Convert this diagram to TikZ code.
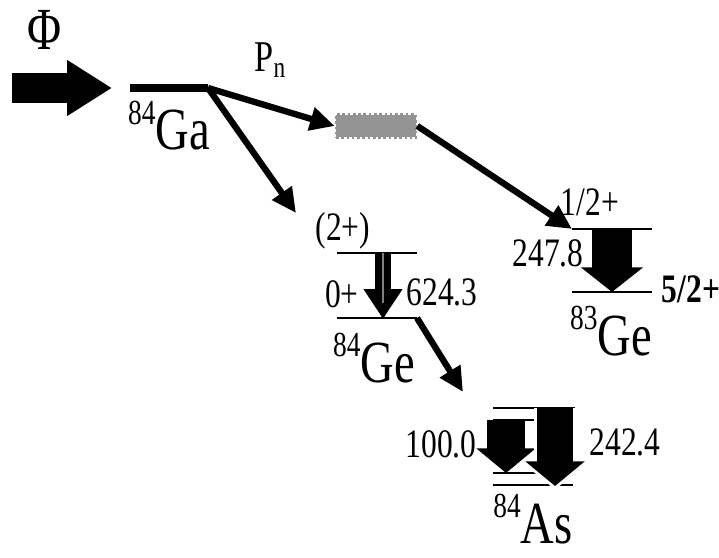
\documentclass[tikz,border=0pt]{standalone}
\usepackage{fontspec}
\setmainfont{Liberation Serif}[FakeStretch=0.78]
\usetikzlibrary{arrows.meta,calc}
\newcommand{\iso}[2]{\raisebox{14.5pt}{\fontsize{20}{20}\selectfont #1}#2}
\begin{document}
\begin{tikzpicture}[x=0.02cm, y=-0.02cm,
  every node/.style={inner sep=0pt, anchor=base},
  level/.style={line width=1.2pt},
  decay/.style={line width=3.6pt, -{Triangle[length=14pt,width=13pt]}},
  num/.style={font=\fontsize{23}{23}\selectfont},
  nucl/.style={font=\fontsize{34}{34}\selectfont}]
\useasboundingbox (0,0) rectangle (719,557);
\coordinate (src) at (12,88);
\coordinate (phi-tip) at (112,88);
\coordinate (ga-l) at (130,88);
\coordinate (ga-r) at (208,88);
\draw[line width=17pt, -{Triangle[length=25.5pt,width=30pt]}] (src) -- (phi-tip);
\draw[line width=4pt] (ga-l) -- (ga-r);
\node[font=\fontsize{34}{34}\selectfont] (phi) at (45,50) {Φ};
\node[nucl] (ga) at (169,150) {\iso{84}{Ga}};
\node (pnlab) at (270,72) {{\fontsize{25}{25}\selectfont P}{\fontsize{17}{17}\selectfont\raisebox{-3pt}{n}}};
\node[anchor=center, minimum width=1.6cm, minimum height=0.46cm, fill=gray!85, draw=gray!85, line width=1.5pt, dash pattern=on 1.5pt off 1.5pt] (pn) at (376,126) {};
% 83Ge
\coordinate (ge83-ul) at (572,229);
\coordinate (ge83-ur) at (652,229);
\coordinate (ge83-ll) at (572,292);
\coordinate (ge83-lr) at (652,292);
\draw[level] (ge83-ul) -- (ge83-ur);
\draw[level] (ge83-ll) -- (ge83-lr);
\draw[line width=22.7pt, -{Triangle[length=14pt,width=34.6pt]}] ($(ge83-ul)!.5!(ge83-ur)$) -- ($(ge83-ll)!.5!(ge83-lr)$);
\node[num] (j83a) at (590,215) {1/2+};
\node[num] (e83) at (548,266) {247.8};
\node[num, font=\fontsize{23}{23}\selectfont\bfseries] (j83b) at (691,302) {5/2+};
\node[nucl] (ge83) at (611,355) {\iso{83}{Ge}};
% 84Ge
\coordinate (ge84-ul) at (337,253);
\coordinate (ge84-ur) at (417,253);
\coordinate (ge84-ll) at (337,318);
\coordinate (ge84-lr) at (417,318);
\coordinate (ge84-g1) at (383,253);
\coordinate (ge84-g0) at (383,319);
\draw[level] (ge84-ul) -- (ge84-ur);
\draw[level] (ge84-ll) -- (ge84-lr);
\draw[line width=9.6pt, -{Triangle[length=17pt,width=21pt]}] (ge84-g1) -- (ge84-g0);
\draw[gray, line width=1.5pt] (ge84-g1) -- ++(0,50);
\node[num] (j84a) at (343,240) {(2+)};
\node[num] (j84b) at (342,307) {0+};
\node[num] (e84) at (442,305) {624.3};
\node[nucl] (ge84) at (374,382) {\iso{84}{Ge}};
% 84As
\coordinate (as-3l) at (493,408);
\coordinate (as-3r) at (575,408);
\coordinate (as-2l) at (493,420);
\coordinate (as-2r) at (537,420);
\coordinate (as-1l) at (493,473);
\coordinate (as-1r) at (547,473);
\coordinate (as-0l) at (493,485);
\coordinate (as-0r) at (573,485);
\coordinate (as-a1) at (506,420);
\coordinate (as-a0) at (506,473);
\coordinate (as-b1) at (555,408);
\coordinate (as-b0) at (555,486);
\draw[level] (as-3l) -- (as-3r);
\draw[level] (as-2l) -- (as-2r);
\draw[level] (as-1l) -- (as-1r);
\draw[level] (as-0l) -- (as-0r);
\draw[line width=21.5pt, -{Triangle[length=14pt,width=33pt]}] (as-a1) -- (as-a0);
\draw[white, line width=23.5pt, -{Triangle[length=15pt,width=36pt]}] (as-b1) -- ([yshift=-2pt]as-b0);
\draw[line width=20.4pt, -{Triangle[length=14pt,width=33pt]}] (as-b1) -- (as-b0);
\node[num] (e100) at (441,457) {100.0};
\node[num] (e242) at (625,455) {242.4};
\node[nucl] (as) at (533,543) {\iso{84}{As}};
% decays
\coordinate (ge84-in) at (296,213);
\coordinate (as-in) at (463,392);
\draw[decay] (ga-r) -- (pn.west);
\draw[decay] (ga-r) -- (ge84-in);
\draw[decay] (pn.east) -- (ge83-ul);
\draw[decay] (ge84-lr) -- (as-in);
\end{tikzpicture}
\end{document}
